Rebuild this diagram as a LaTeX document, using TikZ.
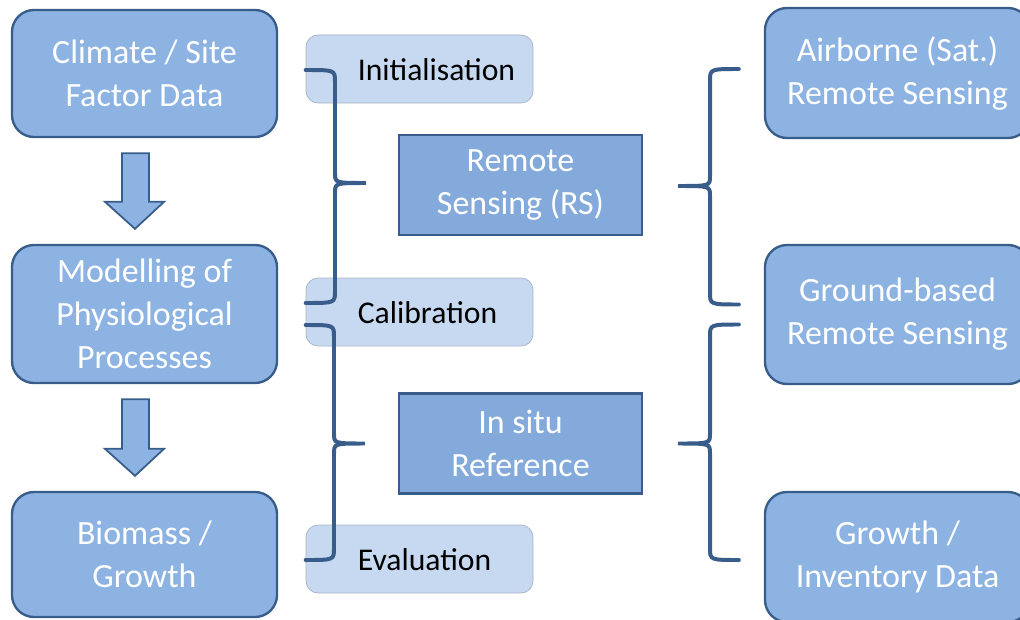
\documentclass[tikz,border=0pt]{standalone}
\usepackage{fontspec}
\setmainfont{Carlito}
\usepackage{tikz}
\usetikzlibrary{positioning,calc}
\definecolor{boxfill}{HTML}{8DB3E2}
\definecolor{boxline}{HTML}{385D8A}
\definecolor{rsfill}{HTML}{84AADB}
\definecolor{phasefill}{HTML}{C6D9F1}
\definecolor{phaseline}{HTML}{A7B4C4}
\tikzstyle{stage}=[draw=boxline, fill=boxfill, line width=2pt, rounded corners=0.66cm,
minimum width=7.95cm, text=white, align=center, font=\fontsize{29}{36.7}\selectfont]
\tikzstyle{method}=[draw=boxline, fill=rsfill, line width=1.8pt, minimum width=7.29cm,
minimum height=3cm, text=white, align=center, font=\fontsize{29}{36.7}\selectfont]
\tikzstyle{phasebox}=[draw=phaseline, fill=phasefill, line width=0.6pt, rounded corners=0.36cm,
minimum width=6.81cm, minimum height=2.04cm]
\tikzstyle{phasetext}=[anchor=west, text=black, inner sep=0pt, font=\fontsize{27}{32}\selectfont]
\tikzstyle{curly}=[draw=boxline, line width=3.4pt, line cap=round]
\tikzstyle{blockarr}=[draw=boxline, fill=boxfill, line width=1.5pt, line join=miter]
% block arrow from box #1 down to box #2
\newcommand{\blockarrow}[2]{%
	\draw[blockarr] ($(#1.south)+(-22.5,15)$) -- ($(#1.south)+(4.5,15)$)
	-- ($(#2.north)+(4.5,-42)$) -- ($(#2.north)+(19.5,-42)$)
	-- ($(#2.north)+(-9.5,-15)$) -- ($(#2.north)+(-39.5,-42)$)
	-- ($(#2.north)+(-22.5,-42)$) -- cycle;}
% curly bracket: top end, bottom end, tip, stem
\newcommand{\grouping}[4]{%
	\draw[curly] (#1) .. controls (#1 -| #4) .. ($(#1 -| #4)+(0,12)$)
	-- ($(#3 -| #4)+(0,-10)$) .. controls (#3 -| #4) .. (#3)
	.. controls (#3 -| #4) .. ($(#3 -| #4)+(0,10)$)
	-- ($(#2 -| #4)+(0,-12)$) .. controls (#2 -| #4) .. (#2);}
\begin{document}
\begin{tikzpicture}[x=0.03cm, y=-0.03cm]
	\useasboundingbox (0,0) rectangle (1020,619);
	\clip (0,0) rectangle (1020,619);
	
	% Model chain
	\node[stage, minimum height=3.81cm] (climate) at (144.5,73.5) {Climate / Site\\Factor Data};
	\node[stage, minimum height=4.14cm] (model) at (144.5,314) {Modelling of\\Physiological\\Processes};
	\node[stage, minimum height=3.75cm] (biomass) at (144.5,554.5) {Biomass /\\Growth};
	
	% Phases
	\node[phasebox] (init) at (419.5,69) {};
	\node[phasetext] at ($(init.west)+(52,1)$) {Initialisation};
	\node[phasebox] (calib) at (419.5,312) {};
	\node[phasetext] at ($(calib.west)+(52,1)$) {Calibration};
	\node[phasebox] (eval) at (419.5,559) {};
	\node[phasetext] at ($(eval.west)+(52,1)$) {Evaluation};
	
	% Methods
	\node[method] (rs) at (520.5,185) {Remote\\Sensing (RS)};
	\node[method] (insitu) at (520.5,443.5) {In situ\\Reference};
	
	% Data sources
	\node[stage, minimum height=3.9cm] (air) at (897.5,73) {Airborne (Sat.)\\Remote Sensing};
	\node[stage, minimum height=4.17cm] (ground) at (897.5,314.5) {Ground-based\\Remote Sensing};
	\node[stage, minimum height=3.9cm] (growth) at (897.5,557) {Growth /\\Inventory Data};
	
	% Arrows
	\blockarrow{climate}{model}
	\blockarrow{model}{biomass}
	
	% Brackets
	\coordinate (stemA) at (335,0);
	\coordinate (stemB) at (334,0);
	\coordinate (stemC) at (710,0);
	\coordinate (a1) at ($(init.west)+(0,1)$);
	\coordinate (a2) at ($(calib.west)+(0,-9)$);
	\coordinate (a3) at ($(rs.west)+(-32,-2)$);
	\coordinate (b1) at ($(calib.west)+(0,13)$);
	\coordinate (b2) at ($(eval.west)+(0,1)$);
	\coordinate (b3) at ($(insitu.west)+(-33,0)$);
	\coordinate (c1) at ($(air.west)+(-25,-4)$);
	\coordinate (c2) at ($(ground.west)+(-25,-10)$);
	\coordinate (c3) at ($(rs.east)+(35,1)$);
	\coordinate (d1) at ($(ground.west)+(-25,10)$);
	\coordinate (d2) at ($(growth.west)+(-25,3)$);
	\coordinate (d3) at ($(insitu.east)+(35,0)$);
	\grouping{a1}{a2}{a3}{stemA}
	\grouping{b1}{b2}{b3}{stemB}
	\grouping{c1}{c2}{c3}{stemC}
	\grouping{d1}{d2}{d3}{stemC}
	
\end{tikzpicture}
\end{document}
